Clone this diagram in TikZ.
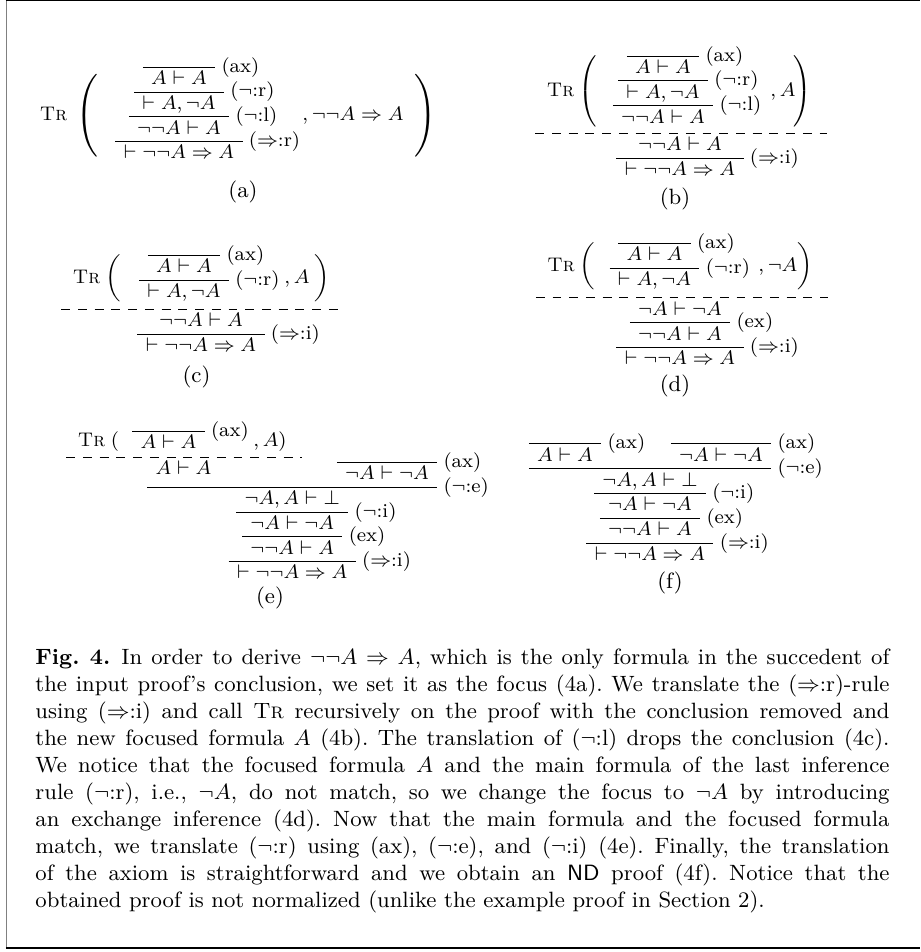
\documentclass[tikz,border=0pt]{standalone}
\usepackage{amsmath}
\usepackage{amssymb}
\usetikzlibrary{positioning, calc}
\frenchspacing

% inference lines between sequent nodes
\newcommand{\axline}[2]{%
  \draw[infer] (#1.north west) -- (#1.north east) node[lbl] {#2};}
\newcommand{\infline}[3]{%
  \draw[infer] let \p1=(#1.south west), \p2=(#2.north west), \p3=(#1.south east), \p4=(#2.north east) in
    ({min(\x1,\x2)},{\y2}) -- ({max(\x3,\x4)},{\y2}) node[lbl] {#3};}

\begin{document}
\begin{tikzpicture}[
    x=0.40652pt, y=-0.40652pt,
    seq/.style={inner xsep=3.2pt, inner ysep=0pt, text height=6.8pt, text depth=2.9pt, font=\fontsize{8}{9.6}\selectfont},
    lbl/.style={anchor=west, inner xsep=2.4pt, inner ysep=0pt, font=\fontsize{8}{9.6}\selectfont},
    word/.style={inner sep=0pt, anchor=base, font=\fontsize{8}{9.6}\selectfont},
    delim/.style={inner sep=0pt, font=\fontsize{8}{9.6}\selectfont},
    sub/.style={inner sep=0pt, anchor=base, font=\fontsize{9}{11}\selectfont},
    infer/.style={line width=0.4pt},
    trline/.style={line width=0.4pt, dash pattern=on 3.6pt off 3.2pt, shorten <=-4.5pt, shorten >=-6pt}
]
    \useasboundingbox (0,0) rectangle (920,952);

    % frame
    \draw[line width=0.8pt, black!50] (6.5,0) -- (6.5,948);
    \draw[line width=0.5pt] (6,0.6) -- (920,0.6);
    \draw[line width=0.7pt] (6,948) -- (920,948);

    % (a)
    \node[seq, anchor=base] (a4) at (179,158.9) {$\vdash \neg\neg A \Rightarrow A$};
    \node[seq, above=0pt of a4] (a3) {$\neg\neg A \vdash A$};
    \node[seq, above=0pt of a3] (a2) {$\vdash A, \neg A$};
    \node[seq, above=0pt of a2] (a1) {$A \vdash A$};
    \axline{a1}{(ax)}
    \infline{a1}{a2}{($\neg$:r)}
    \infline{a2}{a3}{($\neg$:l)}
    \infline{a3}{a4}{($\Rightarrow$:r)}
    \node[word] (tra) at (53.5,120.5) {\textsc{Tr}};
    \node[delim, font=\fontsize{11.2}{13}\selectfont] (lpa) at (89,115.5) {$\left(\vcenter{\hbox{\rule{0pt}{34pt}}}\right.$};
    \node[word, anchor=base west] (fa) at (302,120.5) {$, \neg\neg A \Rightarrow A$};
    \node[delim, font=\fontsize{11.2}{13}\selectfont] (rpa) at (424,115.5) {$\left.\vcenter{\hbox{\rule{0pt}{34pt}}}\right)$};
    \node[sub] (capa) at (243,197) {(a)};

    % (b)
    \node[seq, anchor=base] (b3) at (663,123) {$\neg\neg A \vdash A$};
    \node[seq, above=0pt of b3] (b2) {$\vdash A, \neg A$};
    \node[seq, above=0pt of b2] (b1) {$A \vdash A$};
    \axline{b1}{(ax)}
    \infline{b1}{b2}{($\neg$:r)}
    \infline{b2}{b3}{($\neg$:l)}
    \node[word] (trb) at (560.5,96.5) {\textsc{Tr}};
    \node[delim] (lpb) at (589.5,91.5) {$\left(\vcenter{\hbox{\rule{0pt}{30pt}}}\right.$};
    \node[word, anchor=base west] (fb) at (770,96.5) {$, A$};
    \node[delim] (rpb) at (801.5,91.5) {$\left.\vcenter{\hbox{\rule{0pt}{30pt}}}\right)$};
    \node[seq, anchor=base] (b4) at (680,150.7) {$\neg\neg A \vdash A$};
    \node[seq, below=0pt of b4] (b5) {$\vdash \neg\neg A \Rightarrow A$};
    \draw[trline] (trb.west |- b4.north) -- (rpb.east |- b4.north);
    \infline{b4}{b5}{($\Rightarrow$:i)}
    \node[sub] (capb) at (675,204) {(b)};

    % (c)
    \node[seq, anchor=base] (c2) at (184,297.6) {$\vdash A, \neg A$};
    \node[seq, above=0pt of c2] (c1) {$A \vdash A$};
    \axline{c1}{(ax)}
    \infline{c1}{c2}{($\neg$:r)}
    \node[word] (trc) at (86.5,283) {\textsc{Tr}};
    \node[delim] (lpc) at (115,278) {$\left(\vcenter{\hbox{\rule{0pt}{20pt}}}\right.$};
    \node[word, anchor=base west] (fc) at (284,283) {$, A$};
    \node[delim] (rpc) at (321,278) {$\left.\vcenter{\hbox{\rule{0pt}{20pt}}}\right)$};
    \node[seq, anchor=base] (c3) at (201,326.7) {$\neg\neg A \vdash A$};
    \node[seq, below=0pt of c3] (c4) {$\vdash \neg\neg A \Rightarrow A$};
    \draw[trline] (trc.west |- c3.north) -- (rpc.east |- c3.north);
    \infline{c3}{c4}{($\Rightarrow$:i)}
    \node[sub] (capc) at (196.5,382.5) {(c)};

    % (d)
    \node[seq, anchor=base] (d2) at (654.5,285.7) {$\vdash A, \neg A$};
    \node[seq, above=0pt of d2] (d1) {$A \vdash A$};
    \axline{d1}{(ax)}
    \infline{d1}{d2}{($\neg$:r)}
    \node[word] (trd) at (561,271.5) {\textsc{Tr}};
    \node[delim] (lpd) at (588.5,266.5) {$\left(\vcenter{\hbox{\rule{0pt}{20pt}}}\right.$};
    \node[word, anchor=base west] (fd) at (758,271.5) {$, \neg A$};
    \node[delim] (rpd) at (804,266.5) {$\left.\vcenter{\hbox{\rule{0pt}{20pt}}}\right)$};
    \node[seq, anchor=base] (d3) at (680,315.2) {$\neg A \vdash \neg A$};
    \node[seq, below=0pt of d3] (d4) {$\neg\neg A \vdash A$};
    \node[seq, below=0pt of d4] (d5) {$\vdash \neg\neg A \Rightarrow A$};
    \draw[trline] (trd.west |- d3.north) -- (rpd.east |- d3.north);
    \infline{d3}{d4}{(ex)}
    \infline{d4}{d5}{($\Rightarrow$:i)}
    \node[sub] (capd) at (675,391.5) {(d)};

    % (e)
    \node[seq, anchor=base] (e1) at (168.5,448.7) {$A \vdash A$};
    \axline{e1}{(ax)}
    \node[word] (tre) at (91.5,446) {\textsc{Tr}};
    \node[word] (lpe) at (115,446) {$($};
    \node[word, anchor=base west] (fe) at (253,446) {$, A)$};
    \node[seq, anchor=base] (e2) at (183.5,474.6) {$A \vdash A$};
    \node[seq, anchor=base] (e3) at (387,479.6) {$\neg A \vdash \neg A$};
    \draw[trline] (tre.west |- e2.north) -- (fe.east |- e2.north);
    \axline{e3}{(ax)}
    \draw[infer] (e2.west |- e3.south) -- (e3.south east) node[lbl] {($\neg$:e)};
    \node[seq, anchor=north] (e4) at ($(e2.west |- e3.south)!0.5!(e3.south east)$) {$\neg A, A \vdash \bot$};
    \node[seq, below=0pt of e4] (e5) {$\neg A \vdash \neg A$};
    \node[seq, below=0pt of e5] (e6) {$\neg\neg A \vdash A$};
    \node[seq, below=0pt of e6] (e7) {$\vdash \neg\neg A \Rightarrow A$};
    \infline{e4}{e5}{($\neg$:i)}
    \infline{e5}{e6}{(ex)}
    \infline{e6}{e7}{($\Rightarrow$:i)}
    \node[sub] (cape) at (270,603.5) {(e)};

    % (f)
    \node[seq, anchor=base] (f1) at (565,461.2) {$A \vdash A$};
    \node[seq, anchor=base] (f2) at (721,461.2) {$\neg A \vdash \neg A$};
    \axline{f1}{(ax)}
    \axline{f2}{(ax)}
    \draw[infer] (f1.south west) -- (f1.south west -| f2.south east) node[lbl] {($\neg$:e)};
    \node[seq, anchor=north] (f3) at ($(f1.south west)!0.5!(f2.south east)$) {$\neg A, A \vdash \bot$};
    \node[seq, below=0pt of f3] (f4) {$\neg A \vdash \neg A$};
    \node[seq, below=0pt of f4] (f5) {$\neg\neg A \vdash A$};
    \node[seq, below=0pt of f5] (f6) {$\vdash \neg\neg A \Rightarrow A$};
    \infline{f3}{f4}{($\neg$:i)}
    \infline{f4}{f5}{(ex)}
    \infline{f5}{f6}{($\Rightarrow$:i)}
    \node[sub] (capf) at (670,588.5) {(f)};

    % caption
    \node[anchor=base west, inner sep=0pt, text width=347.2pt, align=justify, font=\fontsize{9}{11}\selectfont] (cap) at (35,664) {\textbf{Fig.~4.}\enspace In order to derive $\neg\neg A \Rightarrow A$, which is the only formula in the succedent of\linebreak
    the input proof's conclusion, we set it as the focus (4a). We translate the ($\Rightarrow$:r)-rule\linebreak
    using ($\Rightarrow$:i) and call \textsc{Tr} recursively on the proof with the conclusion removed and\linebreak
    the new focused formula $A$ (4b). The translation of ($\neg$:l) drops the conclusion (4c).\linebreak
    We notice that the focused formula $A$ and the main formula of the last inference\linebreak
    rule ($\neg$:r), i.e., $\neg A$, do not match, so we change the focus to $\neg A$ by introducing\linebreak
    an exchange inference (4d). Now that the main formula and the focused formula\linebreak
    match, we translate ($\neg$:r) using (ax), ($\neg$:e), and ($\neg$:i) (4e). Finally, the translation\linebreak
    of the axiom is straightforward and we obtain an \textsf{ND} proof (4f). Notice that the\linebreak
    obtained proof is not normalized (unlike the example proof in Section~2).};
\end{tikzpicture}
\end{document}
